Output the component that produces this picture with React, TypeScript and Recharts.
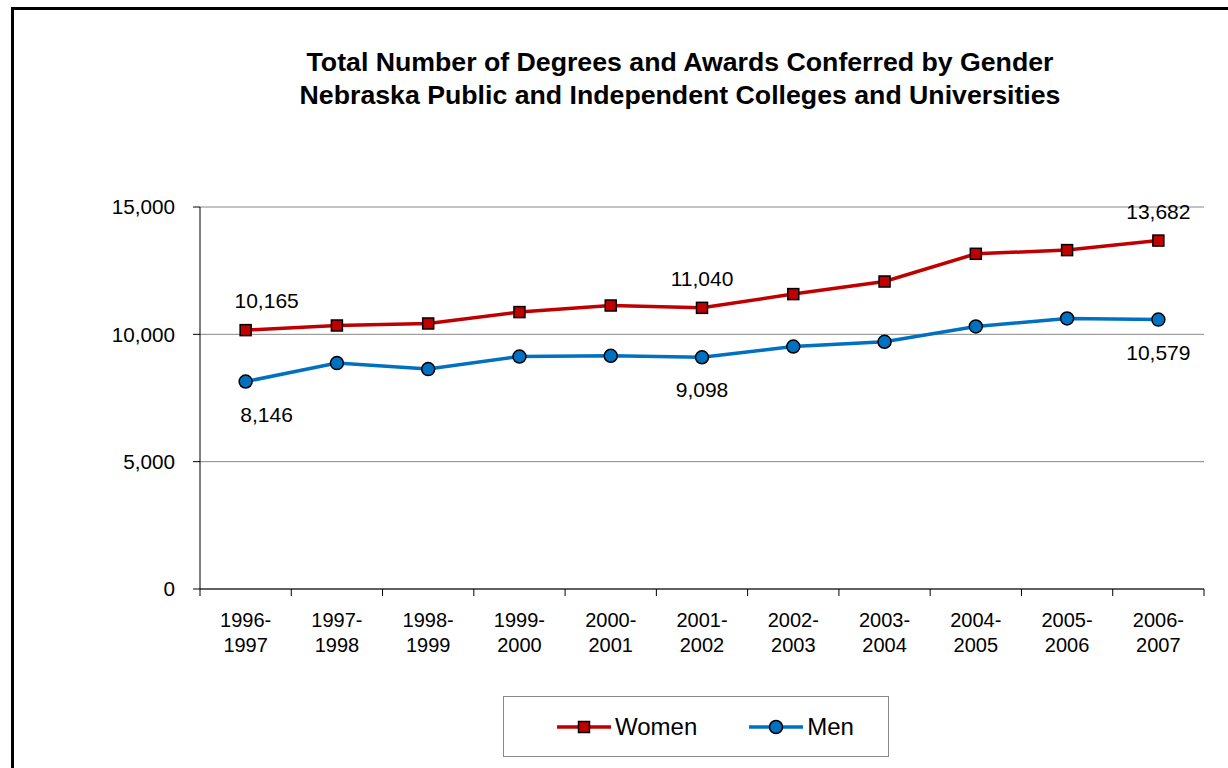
import { LineChart, Line, XAxis, YAxis, CartesianGrid, LabelList } from 'recharts'

const YEARS = [
  '1996-1997', '1997-1998', '1998-1999', '1999-2000', '2000-2001', '2001-2002',
  '2002-2003', '2003-2004', '2004-2005', '2005-2006', '2006-2007',
]
const WOMEN = [10165, 10347, 10425, 10873, 11132, 11040, 11580, 12074, 13162, 13307, 13682]
const MEN = [8146, 8870, 8635, 9129, 9157, 9098, 9522, 9707, 10308, 10622, 10579]
const Y_TICKS = [0, 5000, 10000, 15000]
// points that carry a value label in the original
const LABELLED = [0, 5, 10]

const FONT = 'Arial, "Liberation Sans", sans-serif'
const RED = '#C00000'
const BLUE = '#0070C0'
const W = 1228
const H = 768
const M = { top: 207, right: 24, bottom: 119, left: 120 }
const Y_W = 80
const BAND = (W - M.left - Y_W - M.right) / YEARS.length

const data = YEARS.map((year, i) => ({
  year,
  women: WOMEN[i],
  men: MEN[i],
  womenLabel: LABELLED.includes(i) ? WOMEN[i] : null,
  menLabel: LABELLED.includes(i) ? MEN[i] : null,
}))

const fmt = (v: number) => Number(v).toLocaleString('en-US')

function YearTick({ x, y, payload, index }: any) {
  const [a, b] = String(payload.value).split('-')
  const half = BAND / 2
  return (
    <g>
      <line x1={x - half} y1={y - 8} x2={x - half} y2={y - 1} stroke="#000" />
      {index === YEARS.length - 1 && <line x1={x + half} y1={y - 8} x2={x + half} y2={y - 1} stroke="#000" />}
      <text x={x} y={y} textAnchor="middle" fontSize={20} fill="#000" fontFamily={FONT}>
        <tspan x={x} dy={30}>{a}-</tspan>
        <tspan x={x} dy={25}>{b}</tspan>
      </text>
    </g>
  )
}

// the first pair of labels sits a little right of its point in the original
const valueLabel = (dy: number) => (p: any) => {
  if (p.value == null) return null
  const vb = p.viewBox || {}
  const x = (vb.x ?? p.x) + (p.index === 0 ? 21 : 0)
  const y = (vb.y ?? p.y) + dy
  return (
    <text x={x} y={y} textAnchor="middle" fontSize={21} fill="#000" fontFamily={FONT}>
      {fmt(p.value)}
    </text>
  )
}

function Square({ cx, cy }: any) {
  return <rect x={cx - 5.5} y={cy - 5.5} width={11} height={11} fill={RED} stroke="#000" strokeWidth={1.5} />
}

function Circle({ cx, cy }: any) {
  return <circle cx={cx} cy={cy} r={6.5} fill={BLUE} stroke="#000" strokeWidth={1.5} />
}

export default function App() {
  return (
    <div style={{ position: 'absolute', left: 0, top: 0, width: W, height: H, overflow: 'hidden', background: '#fff', fontFamily: FONT }}>
      <div style={{ position: 'absolute', left: 11, top: 7, width: 1400, height: 1000, border: '3px solid #000', boxSizing: 'border-box' }} />
      <div style={{ position: 'absolute', left: 180, top: 46, width: 1000, textAlign: 'center', fontWeight: 'bold', fontSize: 26.7, lineHeight: '33px', color: '#000' }}>
        Total Number of Degrees and Awards Conferred by Gender<br />
        Nebraska Public and Independent Colleges and Universities
      </div>
      <div style={{ position: 'absolute', left: 0, top: 0 }}>
        <LineChart width={W} height={H} data={data} margin={M}>
          <CartesianGrid yAxisId="left" vertical={false} stroke="#888" strokeWidth={1} />
          <XAxis dataKey="year" tick={<YearTick />} tickLine={false} axisLine={{ stroke: '#000' }} height={60} interval={0}
            padding={{ left: BAND / 2, right: BAND / 2 }} />
          <YAxis yAxisId="left" domain={[0, 15000]} ticks={Y_TICKS} tickFormatter={fmt} width={Y_W} tickSize={7} tickMargin={18}
            axisLine={{ stroke: '#000' }} tickLine={{ stroke: '#000' }} tick={{ fontSize: 20.7, fill: '#000', fontFamily: FONT }} />
          <YAxis yAxisId="right" orientation="right" domain={[0, 15000]} width={0} tick={false} tickLine={false} axisLine={{ stroke: '#888' }} />
          <Line yAxisId="left" dataKey="women" stroke={RED} strokeWidth={3.5} dot={<Square />} activeDot={false} isAnimationActive={false}>
            <LabelList dataKey="womenLabel" content={valueLabel(-22)} />
          </Line>
          <Line yAxisId="left" dataKey="men" stroke={BLUE} strokeWidth={3.5} dot={<Circle />} activeDot={false} isAnimationActive={false}>
            <LabelList dataKey="menLabel" content={valueLabel(40)} />
          </Line>
        </LineChart>
      </div>
      <div style={{ position: 'absolute', left: 503, top: 696, width: 386, height: 61, border: '1px solid #888', boxSizing: 'border-box', display: 'flex', alignItems: 'center', paddingLeft: 53, fontSize: 24, color: '#000' }}>
        <svg width={54} height={20}>
          <line x1={0} y1={10} x2={54} y2={10} stroke={RED} strokeWidth={3.5} />
          <rect x={21.5} y={4.5} width={11} height={11} fill={RED} stroke="#000" strokeWidth={1.5} />
        </svg>
        <span style={{ marginLeft: 4, marginRight: 52 }}>Women</span>
        <svg width={54} height={20}>
          <line x1={0} y1={10} x2={54} y2={10} stroke={BLUE} strokeWidth={3.5} />
          <circle cx={27} cy={10} r={6.5} fill={BLUE} stroke="#000" strokeWidth={1.5} />
        </svg>
        <span style={{ marginLeft: 4 }}>Men</span>
      </div>
    </div>
  )
}
